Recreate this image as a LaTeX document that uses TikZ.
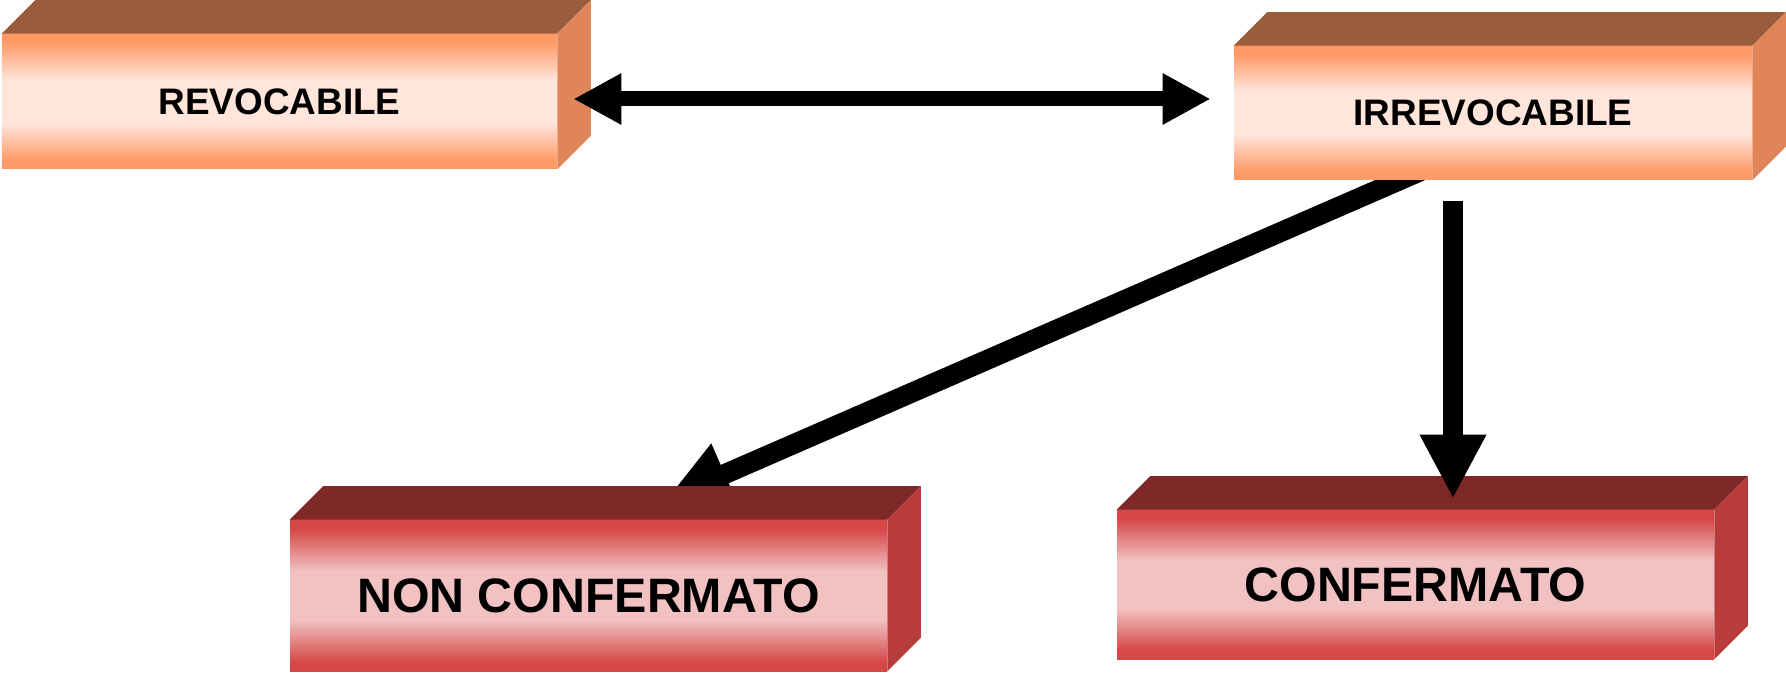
\documentclass[tikz,border=0pt]{standalone}
\usepackage{fontspec}
\setmainfont{Liberation Sans}
\usepackage{tikz}
\usetikzlibrary{positioning}
\usetikzlibrary{calc}
\usetikzlibrary{backgrounds}
\usetikzlibrary{arrows.meta}
\definecolor{peachdark}{RGB}{255,153,102}
\definecolor{peachlight}{RGB}{255,229,218}
\definecolor{peachtop}{RGB}{153,92,60}
\definecolor{peachside}{RGB}{224,133,90}
\definecolor{reddark}{RGB}{213,72,72}
\definecolor{redlight}{RGB}{242,193,193}
\definecolor{redtop}{RGB}{127,40,40}
\definecolor{redside}{RGB}{185,60,60}
\pgfdeclareverticalshading{peachfront}{100bp}{color(0bp)=(peachdark); color(28bp)=(peachdark); color(42bp)=(peachlight); color(58bp)=(peachlight); color(72bp)=(peachdark); color(100bp)=(peachdark)}
\pgfdeclareverticalshading{redfront}{100bp}{color(0bp)=(reddark); color(28bp)=(reddark); color(42bp)=(redlight); color(58bp)=(redlight); color(72bp)=(reddark); color(100bp)=(reddark)}
\tikzset{peachbox/.style={shading=peachfront, inner sep=0pt, font=\fontsize{21}{25}\selectfont\bfseries},
redbox/.style={shading=redfront, inner sep=0pt, font=\fontsize{27.5}{32}\selectfont\bfseries},
thinarrow/.style={line width=0.3cm, >={Triangle[width=0.96cm,length=0.96cm]}, <->},
fatarrow/.style={line width=0.4cm, >={Triangle[width=1.24cm,length=1.28cm]}, ->}}

\begin{document}
\begin{tikzpicture}
\useasboundingbox (0,0) rectangle (35.72,-13.46);

\node (rev) at (5.59,-2.03) [peachbox, minimum width=11.1cm, minimum height=2.7cm] {REVOCABILE};
\node (irr) [right of=rev, node distance=24.27cm, yshift=-0.23cm, peachbox, minimum width=10.36cm, minimum height=2.68cm] {IRREVOCABILE};
\node (nonc) [below of=rev, node distance=9.88cm, xshift=6.18cm, redbox, minimum width=11.94cm, minimum height=3.02cm] {NON CONFERMATO};
\node (con) [right of=nonc, node distance=16.54cm, yshift=0.22cm, redbox, minimum width=11.94cm, minimum height=2.98cm] {CONFERMATO};

\foreach \b/\t/\s in {rev/peachtop/peachside, irr/peachtop/peachside, nonc/redtop/redside, con/redtop/redside} {
\fill[\t] (\b.north west) -- ++(0.67,0.67) -- ([shift={(0.67,0.67)}]\b.north east) -- (\b.north east) -- cycle;
\fill[\s] (\b.north east) -- ++(0.67,0.67) -- ([shift={(0.67,0.67)}]\b.south east) -- (\b.south east) -- cycle;
}

\begin{scope}[on background layer]
\draw[fatarrow] ($(irr.south)+(-1.32,0.24)$) -- ($(nonc.north)+(1.55,0.4)$);
\end{scope}
\draw[thinarrow] ($(rev.east)+(0.32,0.05)$) -- ($(rev.east -| irr.west)+(-0.46,0.05)$);
\draw[fatarrow] ($(irr.south)+(-0.8,-0.42)$) -- ($(irr.south |- con.north)+(-0.8,0.22)$);
\end{tikzpicture}
\end{document}
